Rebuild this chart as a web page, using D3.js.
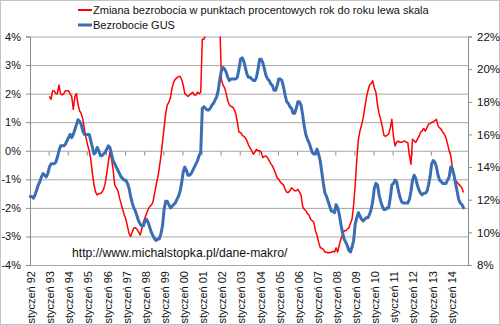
<!DOCTYPE html>
<html>
<head>
<meta charset="utf-8">
<script src="https://cdn.jsdelivr.net/npm/d3@7"></script>
<style>
  html, body { margin: 0; padding: 0; background: #fff; }
  svg { display: block; }
  text { font-family: "Liberation Sans", Arial, sans-serif; }
</style>
</head>
<body>
<svg id="chart" width="500" height="325"></svg>
<script>
// ---------------- DATA ----------------
// Years shown as category labels (January of each year)
const yearLabels = ["92","93","94","95","96","97","98","99","00","01","02","03",
                    "04","05","06","07","08","09","10","11","12","13","14"];
const monthCount = 275; // Jan 1992 .. Nov 2014 categories

// Bezrobocie GUS (%), monthly from Jan 1992 (right scale)
const bezrobocieGUS = [
  12.2, 12.2, 12.1, 12.3, 12.6, 12.9, 13.1, 13.4, 13.6, 13.5, 13.4, 13.6, // 1992
  14.0, 14.2, 14.2, 14.2, 14.3, 14.6, 15.0, 15.3, 15.3, 15.3, 15.4, 15.6, // 1993
  15.8, 16.0, 15.8, 16.0, 16.3, 16.6, 16.9, 16.8, 16.6, 16.2, 16.0, 16.0, // 1994
  16.0, 16.0, 15.6, 15.2, 14.8, 14.9, 15.2, 15.0, 14.7, 14.7, 14.8, 14.9, // 1995
  15.1, 15.3, 15.2, 14.8, 14.4, 14.2, 14.0, 13.8, 13.6, 13.4, 13.3, 13.2, // 1996
  13.2, 13.0, 12.7, 12.2, 11.8, 11.5, 11.3, 11.0, 10.7, 10.5, 10.4, 10.4, // 1997
  10.7, 10.8, 10.6, 10.3, 10.0,  9.8,  9.6,  9.5,  9.6,  9.6,  9.9, 10.4, // 1998
  11.4, 11.9, 11.9, 11.7, 11.5, 11.6, 11.7, 11.8, 12.0, 12.2, 12.5, 13.0, // 1999
  13.7, 14.0, 13.8, 13.5, 13.5, 13.6, 13.8, 14.0, 14.2, 14.4, 14.7, 14.9, // 2000
  17.6, 17.7, 17.6, 17.5, 17.5, 17.6, 17.8, 17.9, 18.1, 18.3, 18.7, 19.4, // 2001
  19.9, 20.1, 20.0, 19.8, 19.5, 19.3, 19.4, 19.4, 19.4, 19.4, 19.5, 20.0, // 2002
  20.6, 20.7, 20.5, 20.1, 19.7, 19.5, 19.5, 19.4, 19.3, 19.3, 19.5, 20.0, // 2003
  20.6, 20.6, 20.4, 20.0, 19.6, 19.4, 19.3, 19.1, 19.0, 18.7, 18.7, 19.0, // 2004
  19.4, 19.4, 19.3, 18.9, 18.4, 18.0, 17.9, 17.7, 17.6, 17.3, 17.3, 17.6, // 2005
  18.0, 18.0, 17.8, 17.2, 16.5, 16.0, 15.7, 15.5, 15.2, 14.9, 14.8, 14.8, // 2006
  15.1, 14.8, 14.4, 13.7, 13.0, 12.4, 12.2, 11.9, 11.6, 11.3, 11.3, 11.2, // 2007
  11.7, 11.5, 11.1, 10.5, 10.0,  9.6,  9.4,  9.2,  8.9,  8.8,  9.1,  9.5, // 2008
  10.5, 10.9, 11.2, 11.0, 10.8, 10.7, 10.8, 10.9, 10.9, 11.1, 11.4, 11.9, // 2009
  12.7, 13.0, 12.9, 12.3, 11.9, 11.6, 11.4, 11.4, 11.5, 11.5, 12.1, 12.9, // 2010
  13.0, 13.2, 13.1, 12.6, 12.2, 11.9, 11.8, 11.8, 11.8, 11.8, 12.0, 12.5, // 2011
  13.2, 13.5, 13.3, 12.9, 12.6, 12.4, 12.3, 12.4, 12.4, 12.5, 12.9, 13.4, // 2012
  14.2, 14.4, 14.3, 14.0, 13.5, 13.2, 13.1, 13.0, 13.0, 13.0, 13.2, 13.4, // 2013
  14.0, 13.9, 13.5, 13.0, 12.5, 12.0, 11.8, 11.7, 11.5                    // 2014
];

// Zmiana bezrobocia r/r (pp), monthly from Jan 1993 (left scale)
const zmianaRdR = [
   1.9,  1.8,  2.1,  2.1,  2.0,  2.0,  2.3,  2.0,  1.95, 2.0,  2.1,  2.1,  // 1993
   2.1,  2.0,  1.9,  1.45, 1.9,  2.0,  1.6,  1.4,  1.3,  1.1,  0.75, 0.45, // 1994
   0.2,  0.0, -0.3, -0.8, -1.2, -1.45,-1.55,-1.5, -1.5, -1.45,-1.35,-1.15, // 1995
  -0.8, -0.4, -0.05,-0.3, -0.65,-1.2, -1.3, -1.4, -1.65,-1.85,-2.05,-2.25, // 1996
  -2.4, -2.65,-2.9, -3.0, -2.85,-2.7, -2.7, -2.75,-2.85,-2.95,-2.75,-2.5,  // 1997
  -2.35,-2.2, -2.05,-1.95,-1.9, -1.8, -1.5, -1.2, -0.95,-0.6, -0.2,  0.3,  // 1998
   0.8,  1.3,  1.6,  1.7,  1.85, 2.2,  2.4,  2.5,  2.55, 2.6,  2.6,  2.5,  // 1999
   2.3,  2.0,  1.95, 1.9,  1.95, 2.0,  2.05, 1.95, 1.95, 2.05, 2.0,  2.05, // 2000
   3.9,  3.9,  4.05, 4.2,  4.3,  4.3,  4.3,  4.35, 4.4,  4.45, 4.5,  4.4,  // 2001
   2.5,  2.3,  2.2,  2.0,  1.75, 1.6,  1.55, 1.53, 1.45, 1.3,  1.0,  0.65, // 2002
   0.64, 0.55, 0.5,  0.46, 0.35, 0.2,  0.1,  0.0, -0.12,-0.05, 0.05, 0.0,  // 2003
   0.0, -0.05,-0.24,-0.2, -0.18,-0.25,-0.35,-0.45,-0.53,-0.65,-0.8, -0.95, // 2004
  -1.0, -1.1, -1.15,-1.2, -1.35,-1.45,-1.46,-1.4, -1.3, -1.35,-1.4, -1.4,  // 2005
  -1.35,-1.45,-1.55,-1.95,-2.05,-2.1, -2.2, -2.25,-2.4, -2.45,-2.5, -2.8,  // 2006
  -2.95,-3.2, -3.38,-3.42,-3.45,-3.55,-3.55,-3.58,-3.56,-3.56,-3.52,-3.55, // 2007
  -3.4, -3.55,-3.3, -3.1, -2.95,-2.8, -2.8, -2.75,-2.7, -2.55,-2.4, -1.9,  // 2008
  -1.2, -0.3,  0.4,  0.7,  0.9,  1.15, 1.5,  1.85, 2.1,  2.3,  2.35, 2.45, // 2009
   2.2,  2.05, 1.6,  1.3,  1.1,  0.85, 0.55, 0.5,  0.55, 0.58, 0.8,  1.1,  // 2010
   0.5,  0.17, 0.3,  0.34, 0.3,  0.3,  0.32, 0.34, 0.3,  0.29,-0.15,-0.47, // 2011
   0.4,  0.35, 0.29, 0.4,  0.5,  0.64, 0.7,  0.78, 0.69, 0.8,  0.93, 0.95, // 2012
   0.99, 1.02, 1.05, 1.1,  0.87, 0.8,  0.75, 0.65, 0.58, 0.45, 0.23, 0.0,  // 2013
  -0.18,-0.59,-0.88,-1.05,-1.1, -1.17,-1.23,-1.3, -1.46                    // 2014
];
const zmianaStart = 12; // first value belongs to Jan 1993

const leftTicks  = [-4, -3, -2, -1, 0, 1, 2, 3, 4];
const rightTicks = [8, 10, 12, 14, 16, 18, 20, 22];

const legendLabels = [
  "Zmiana bezrobocia w punktach procentowych rok do roku lewa skala",
  "Bezrobocie GUS"
];
const sourceText = "http://www.michalstopka.pl/dane-makro/";

// ---------------- DRAW ----------------
(function () {
const svg = d3.select("#chart");
const W = 500, H = 325;
const pLeft = 30, pRight = 468, pTop = 36.5, pBottom = 265;

svg.append("rect").attr("x", 0.5).attr("y", 0.5).attr("width", W - 1).attr("height", H - 1)
  .attr("fill", "#fff").attr("stroke", "#c4c4c4");

const x = d3.scaleLinear().domain([0, monthCount]).range([29.5, 467.5]);
const xc = i => x(i + 0.5);
const yL = d3.scaleLinear().domain([-4, 4]).range([pBottom, pTop]);
const yR = d3.scaleLinear().domain([8, 22]).range([pBottom, pTop]);

const gridColor = "#a6a6a6";
const axisColor = "#8c8c8c";

// horizontal gridlines
svg.append("g").attr("class", "grid")
  .attr("transform", `translate(${pLeft},0)`)
  .call(d3.axisLeft(yL).tickValues(leftTicks).tickSize(-(pRight - pLeft)).tickFormat(""))
  .call(g => g.select(".domain").remove())
  .call(g => g.selectAll("line").attr("stroke", gridColor));

// left axis
svg.append("g")
  .attr("transform", `translate(${pLeft},0)`)
  .call(d3.axisLeft(yL).tickValues(leftTicks).tickSize(4).tickPadding(5).tickFormat(d => d + "%"))
  .call(g => g.select(".domain").attr("stroke", axisColor))
  .call(g => g.selectAll("line").attr("stroke", axisColor))
  .call(g => g.selectAll("text").attr("font-family", "'Liberation Sans', Arial, sans-serif")
      .attr("font-size", 11).attr("fill", "#111"));

// right axis (serif labels)
svg.append("g")
  .attr("transform", `translate(${pRight},0)`)
  .call(d3.axisRight(yR).tickValues(rightTicks).tickSize(4).tickPadding(5).tickFormat(d => d + "%"))
  .call(g => g.select(".domain").attr("stroke", axisColor))
  .call(g => g.selectAll("line").attr("stroke", axisColor))
  .call(g => g.selectAll("text").attr("font-family", "'Liberation Serif', 'Times New Roman', serif")
      .attr("font-size", 11.5).attr("fill", "#111"));

// category tick marks on the 0% line (year boundaries)
const yearBounds = d3.range(1, yearLabels.length).map(k => k * 12);
svg.append("g")
  .attr("transform", `translate(0,${Math.round(yL(0)) + 0.5})`)
  .call(d3.axisBottom(x).tickValues(yearBounds).tickSize(4).tickFormat(""))
  .call(g => g.select(".domain").remove())
  .call(g => g.selectAll("line").attr("stroke", axisColor));

// bottom category labels (rotated)
svg.append("g").selectAll("text")
  .data(yearLabels)
  .join("text")
  .attr("transform", (d, k) => `translate(${xc(k * 12) + 1},271) rotate(-90)`)
  .attr("text-anchor", "end")
  .attr("dy", "0.35em")
  .attr("font-size", 11)
  .attr("fill", "#111")
  .text(d => "styczeń " + d);

// clip for plot area
svg.append("clipPath").attr("id", "plotclip")
  .append("rect").attr("x", pLeft).attr("y", pTop).attr("width", pRight - pLeft).attr("height", pBottom - pTop);

// source text
svg.append("text")
  .attr("x", 72).attr("y", 257)
  .attr("font-size", 12.2).attr("fill", "#111")
  .text(sourceText);

// red series
const lineL = d3.line().x(d => xc(d.i)).y(d => yL(d.v));
const redData = zmianaRdR.map((v, k) => ({ i: k + zmianaStart, v }));
svg.append("path")
  .datum(redData)
  .attr("clip-path", "url(#plotclip)")
  .attr("fill", "none")
  .attr("stroke", "#ff0000")
  .attr("stroke-width", 1.5)
  .attr("stroke-linejoin", "round")
  .attr("d", lineL);

// blue series
const lineR = d3.line().x(d => xc(d.i)).y(d => yR(d.v));
const blueData = bezrobocieGUS.map((v, k) => ({ i: k, v }));
svg.append("path")
  .datum(blueData)
  .attr("fill", "none")
  .attr("stroke", "#3b6db3")
  .attr("stroke-width", 3)
  .attr("stroke-linejoin", "round")
  .attr("stroke-linecap", "round")
  .attr("d", lineR);

// legend
const legColors = ["#ff0000", "#3b6db3"];
const legWidths = [2, 3];
const leg = svg.append("g");
legendLabels.forEach((t, k) => {
  const yy = 10 + k * 15;
  leg.append("line").attr("x1", 78).attr("x2", 92).attr("y1", yy).attr("y2", yy)
    .attr("stroke", legColors[k]).attr("stroke-width", legWidths[k]);
  leg.append("text").attr("x", 93).attr("y", yy).attr("dy", "0.35em")
    .attr("font-size", 11).attr("fill", "#111").text(t);
});
})();
</script>
</body>
</html>
